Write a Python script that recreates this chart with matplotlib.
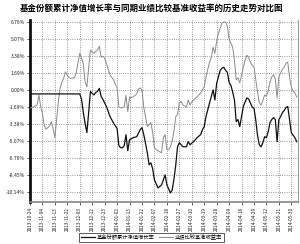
import matplotlib
matplotlib.use('Agg')
import matplotlib.pyplot as plt

plt.rcParams['font.family'] = ['Noto Sans CJK SC', 'DejaVu Sans']

# 交易日序号与数值(%)
fund_days = [0, 28, 29, 30, 31, 32, 33, 34, 35, 36,
             37, 38, 39, 40, 41, 43, 45, 47, 49, 50,
             51, 52, 53, 54, 55, 56, 58, 60, 62, 63,
             64, 66, 67, 68, 69, 70, 72, 74, 76, 77,
             79, 80, 81, 82, 83, 84, 85, 86, 88, 89,
             90, 92, 94, 96, 97, 98, 99, 101, 102, 103,
             104, 105, 106, 107, 108, 109, 110, 111, 112, 113,
             114, 115, 116, 117, 118, 119, 120, 121, 122, 123,
             124, 125, 126, 127, 128, 129, 130, 131, 132, 133,
             134, 135, 136, 137, 138, 139, 140, 141, 142, 143,
             144, 145, 146, 147, 149, 150]
fund_vals = [-0.35, -0.35, -0.9, -2.2, -3.3, -4.2, -2.2, -0.1, -0.3, -0.45,
             -0.2, -0.1, 0.2, -0.6, -0.9, -1.6, -2.6, -3.25, -3.8, -5.5,
             -5.7, -5.7, -5.5, -4.4, -6.0, -4.9, -4.7, -4.6, -3.9, -3.7,
             -4.4, -6.2, -7.4, -7.2, -7.8, -8.9, -9.7, -9.4, -8.4, -9.4,
             -10.2, -9.9, -8.8, -7.4, -5.6, -5.2, -5.4, -5.6, -5.6, -5.1,
             -5.4, -5.1, -4.7, -4.4, -3.9, -3.6, -2.6, -1.25, -0.6, 0.05,
             -0.95, 0.7, 1.35, 2.0, 2.2, 2.3, 2.0, 1.8, 0.8, 0.5,
             -0.15, -0.95, -3.1, -2.9, -3.6, -2.6, -1.6, -1.15, -0.75, -0.85,
             -1.25, -1.65, -1.8, -2.95, -4.5, -5.4, -5.6, -5.2, -4.6, -4.7,
             -4.1, -3.2, -2.9, -2.7, -2.9, -5.1, -2.9, -2.6, -2.2, -2.0,
             -1.7, -1.6, -2.9, -4.2, -4.7, -5.1]

bench_days = [0, 2] + list(range(4, 151))
bench_vals = [-1.75, -1.65,
              -1.45, -0.45, -1.6, -2.3, -3.5, -3.85, -3.7, -3.55, -3.1, -3.8,
              -4.7, -2.9, -1.0, 0.3, 0.85, 1.25, 1.85, 1.5, 1.25, 1.2,
              1.25, 1.25, 1.75, 2.7, 3.7, 3.2, 2.6, 0.85, 0.35, 2.3,
              4.0, 3.8, 3.7, 3.9, 4.0, 4.4, 3.3, 3.4, 3.2, 2.7,
              2.1, 1.55, 1.3, 1.05, 0.6, 0.25, -1.65, -1.75, -1.7, -1.65,
              -0.5, -2.1, -0.65, -0.7, -0.65, -0.5, -0.35, 0.1, 0.25, 0.0,
              -1.65, -2.6, -3.6, -3.4, -3.2, -4.2, -5.7, -5.9, -6.0, -6.1,
              -6.2, -4.7, -4.4, -5.9, -5.9, -5.6, -5.0, -4.0, -2.6, -2.4,
              -1.25, -1.1, -1.45, -1.55, -1.65, -0.95, -1.45, -1.15, -0.95, -0.8,
              -0.65, -0.45, -0.25, 0.05, 0.35, 1.35, 2.1, 2.8, 3.3, 4.3,
              3.7, 4.9, 5.7, 6.2, 6.7, 6.8, 6.8, 6.4, 5.1, 4.7,
              4.3, 3.0, 1.05, 1.25, 0.75, 1.55, 2.3, 3.0, 3.5, 3.3,
              2.8, 2.5, 2.3, 1.05, -0.15, -1.25, -1.45, -1.0, -0.45, -0.6,
              -0.05, 0.85, 1.35, 1.55, 1.1, -0.75, 1.35, 1.75, 2.1, 2.3,
              2.7, 2.8, 1.35, 0.35, -0.05, -0.25, -0.65]

date_labels = ['2013-10-24', '2013-11-04', '2013-11-13', '2013-11-22', '2013-12-03',
               '2013-12-12', '2013-12-23', '2014-01-02', '2014-01-13', '2014-01-22',
               '2014-02-07', '2014-02-18', '2014-02-27', '2014-03-10', '2014-03-19',
               '2014-03-28', '2014-04-09', '2014-04-18', '2014-04-29', '2014-05-12',
               '2014-05-21', '2014-05-30']
tick_days = [7 * i for i in range(len(date_labels))]
y_ticks = [6.76, 5.07, 3.38, 1.69, 0.00, -1.69, -3.38, -5.07, -6.76, -8.45, -10.14]

fig = plt.figure(figsize=(3.0, 2.44), dpi=100)
ax = fig.add_axes([0.1, 0.172, 0.893, 0.746])

ax.plot(bench_days, bench_vals, color='#8a8a8a', lw=0.7, label='业绩比较基准收益率', zorder=3)
ax.plot(fund_days, fund_vals, color='#111111', lw=0.9, label='基金份额累计净值增长率', zorder=4)

ax.set_xlim(0, 150.7)
ax.set_ylim(-11.1, 7.0)
ax.set_xticks(tick_days)
ax.set_xticklabels(date_labels, rotation=90, fontsize=3.4)
ax.set_yticks(y_ticks)
ax.set_yticklabels(['%.2f%%' % v for v in y_ticks], fontsize=3.6)
ax.tick_params(length=2, width=0.5, pad=1.5, colors='#222222')
ax.grid(True, ls=':', lw=0.6, color='#777777')

ax.spines['top'].set_visible(False)
ax.spines['left'].set_linewidth(2.0)
ax.spines['left'].set_color('#111111')
ax.spines['bottom'].set_linewidth(1.2)
ax.spines['bottom'].set_color('#888888')
ax.spines['right'].set_linewidth(0.8)
ax.spines['right'].set_color('#999999')

fig.text(0.505, 0.965, '基金份额累计净值增长率与同期业绩比较基准收益率的历史走势对比图',
         ha='center', va='center', fontsize=6.1, fontweight='bold')

handles, labels = ax.get_legend_handles_labels()
leg = fig.legend(handles[::-1], labels[::-1], loc='center', bbox_to_anchor=(0.505, 0.028),
                 ncol=2, fontsize=3.8, frameon=True, fancybox=False, edgecolor='#111111',
                 handlelength=2.6, handletextpad=0.4, columnspacing=0.8,
                 borderpad=0.3, borderaxespad=0)
leg.get_frame().set_linewidth(0.6)

fig.savefig('out.png', dpi=100)
